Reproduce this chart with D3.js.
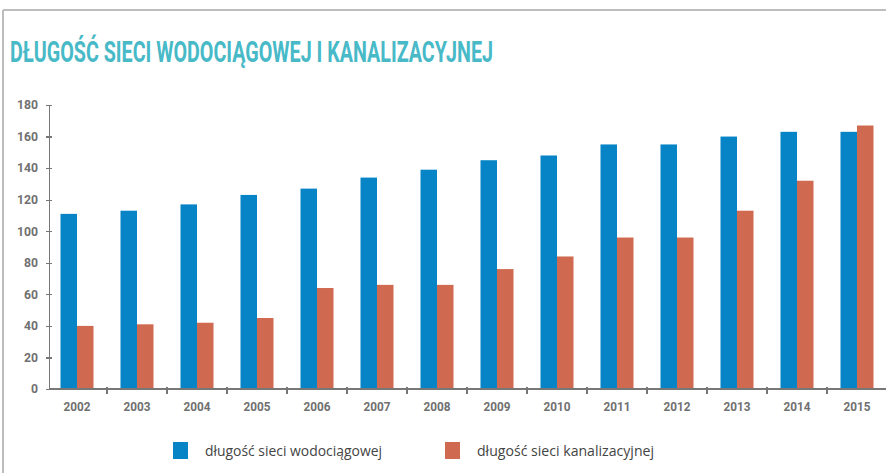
<!DOCTYPE html>
<html>
<head>
<meta charset="utf-8">
<style>
body{margin:0;background:#fff;}
.axis path, .axis line{fill:none;stroke:#777;stroke-width:1.2;shape-rendering:crispEdges;}
.axis text{font-family:Roboto,"DejaVu Sans",sans-serif;font-weight:bold;fill:#707070;}
.legend text{font-family:"Open Sans",sans-serif;font-size:15px;fill:#444;}
</style>
</head>
<body>
<svg id="chart"></svg>
<script src="https://cdn.jsdelivr.net/npm/d3@7"></script>
<script>
var years = ["2002","2003","2004","2005","2006","2007","2008","2009","2010","2011","2012","2013","2014","2015"];
var seriesNames = ["długość sieci wodociągowej", "długość sieci kanalizacyjnej"];
var water = [111, 113, 117, 123, 127, 134, 139, 145, 148, 155, 155, 160, 163, 163];
var sewer = [40, 41, 42, 45, 64, 66, 66, 76, 84, 96, 96, 113, 132, 167];
var yTicks = [0, 20, 40, 60, 80, 100, 120, 140, 160, 180];
var colors = ["#0784c6", "#cf6a50"];
var title = "DŁUGOŚĆ SIECI WODOCIĄGOWEJ I KANALIZACYJNEJ";

function buildChart(){
    var width = 886, height = 473;
    var svg = d3.select("svg#chart")
        .attr("width", width)
        .attr("height", height);

    // frame lines (top and left only)
    svg.append("line").attr("x1", 3).attr("x2", width).attr("y1", 10).attr("y2", 10)
        .attr("stroke", "#bdbdbd").attr("stroke-width", 2);
    svg.append("line").attr("x1", 3).attr("x2", 3).attr("y1", 10).attr("y2", height)
        .attr("stroke", "#bdbdbd").attr("stroke-width", 2);

    svg.append("text")
        .attr("x", 10)
        .attr("y", 62)
        .attr("textLength", 483)
        .attr("lengthAdjust", "spacingAndGlyphs")
        .style("font-family", "Roboto,'DejaVu Sans',sans-serif")
        .style("font-weight", "bold")
        .style("font-size", "29px")
        .style("fill", "#47b9c7")
        .text(title);

    var axisX = 49, baseY = 389;
    var x = d3.scaleBand().domain(years).range([47, 887]).padding(0);
    var y = d3.scaleLinear().domain([0, 180]).range([baseY, 105]);
    var x1 = d3.scaleBand().domain(seriesNames).range([0, 33]);
    var off = (x.bandwidth() - 33) / 2;

    var rows = years.map(function(yr, i){ return {year: yr, vals: [water[i], sewer[i]]}; });

    var groups = svg.selectAll(".grp")
        .data(rows)
        .enter()
        .append("g")
        .attr("class", "grp")
        .attr("transform", function(d){ return "translate(" + (x(d.year) + off) + ",0)"; });

    groups.selectAll("rect")
        .data(function(d){ return d.vals.map(function(v, k){ return {key: seriesNames[k], v: v, k: k}; }); })
        .enter()
        .append("rect")
        .attr("x", function(d){ return x1(d.key); })
        .attr("width", x1.bandwidth())
        .attr("y", function(d){ return y(d.v); })
        .attr("height", function(d){ return baseY - y(d.v); })
        .attr("fill", function(d){ return colors[d.k]; });

    // y axis
    var yAxis = svg.append("g")
        .attr("class", "axis")
        .attr("transform", "translate(" + axisX + ",0)")
        .call(d3.axisLeft(y).tickValues(yTicks).tickSize(3).tickPadding(8).tickSizeOuter(0));
    yAxis.selectAll(".tick line").attr("x1", 3);
    yAxis.selectAll(".tick text")
        .style("font-size", "12px")
        .attr("textLength", function(d){ return String(d).length * 7; })
        .attr("lengthAdjust", "spacingAndGlyphs");

    // x axis: labels centred in bands, ticks between bands
    var xAxis = svg.append("g")
        .attr("class", "axis")
        .attr("transform", "translate(0," + baseY + ")")
        .call(d3.axisBottom(x).tickSize(0).tickPadding(13));
    xAxis.select(".domain").remove();
    xAxis.selectAll(".tick text")
        .style("font-size", "13px")
        .attr("textLength", 27)
        .attr("lengthAdjust", "spacingAndGlyphs");
    xAxis.append("line")
        .attr("x1", axisX).attr("x2", width)
        .attr("y1", 0).attr("y2", 0);
    xAxis.selectAll(".sep")
        .data(years.slice(1))
        .enter()
        .append("line")
        .attr("class", "sep")
        .attr("x1", function(d){ return x(d); })
        .attr("x2", function(d){ return x(d); })
        .attr("y1", -2).attr("y2", 5);

    // legend
    var legendX = [173, 445];
    var legend = svg.selectAll(".legend")
        .data(seriesNames)
        .enter()
        .append("g")
        .attr("class", "legend")
        .attr("transform", function(d, i){ return "translate(" + legendX[i] + ",442)"; });
    legend.append("rect")
        .attr("width", 15).attr("height", 17)
        .attr("fill", function(d, i){ return colors[i]; });
    legend.append("text")
        .attr("x", 32)
        .attr("y", 14)
        .attr("textLength", 177)
        .attr("lengthAdjust", "spacingAndGlyphs")
        .text(function(d){ return d; });
}

buildChart();
</script>
</body>
</html>
